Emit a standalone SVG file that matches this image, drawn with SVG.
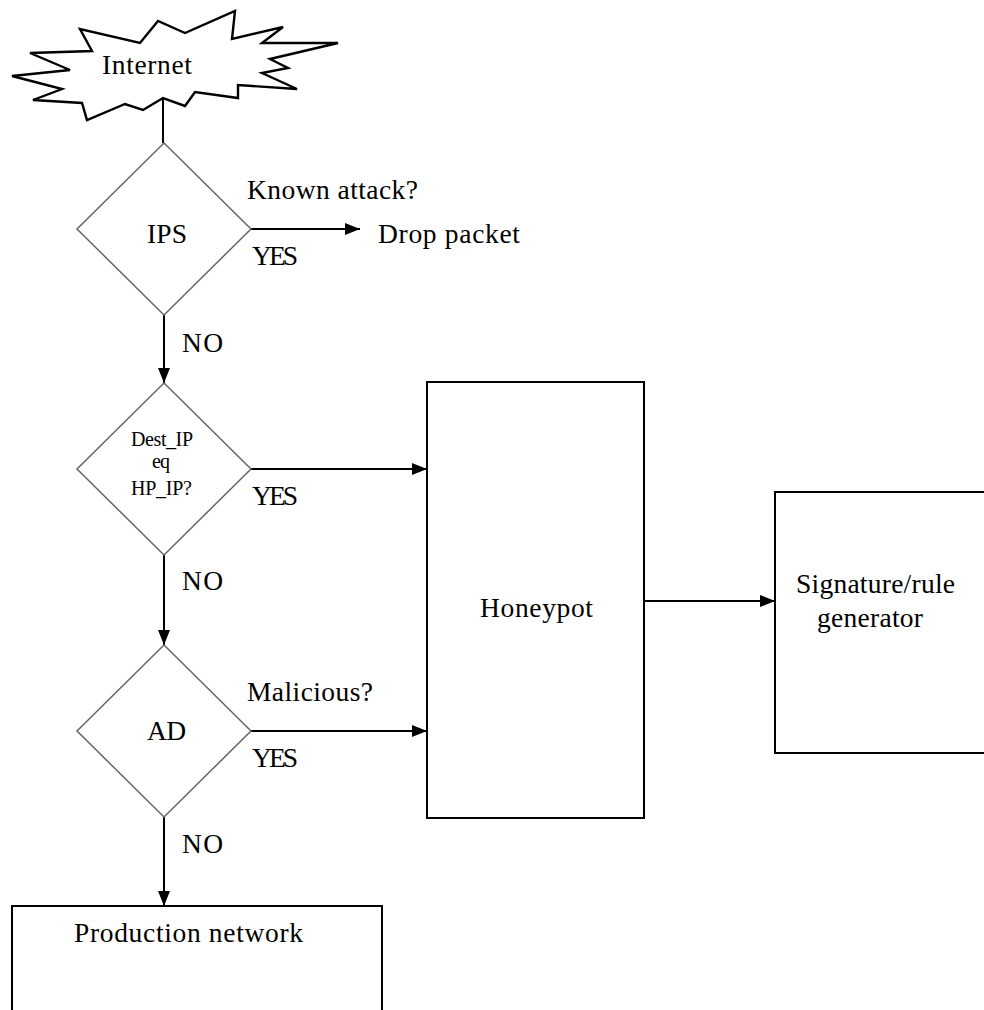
<svg xmlns="http://www.w3.org/2000/svg" width="984" height="1010" viewBox="0 0 984 1010">
<style>
  text { font-family: "Liberation Serif", "Times New Roman", serif; font-size: 27.5px; fill: #000; }
  .small { font-size: 20px; }
  .diamond { fill: #fff; stroke: #666; stroke-width: 1.5; }
  .box { fill: #fff; stroke: #000; stroke-width: 2; }
  .burst { fill: #fff; stroke: #000; stroke-width: 2.4; stroke-linejoin: miter; }
  .conn { stroke: #000; stroke-width: 2; fill: none; }
</style>
<defs>
  <marker id="arrow" markerUnits="userSpaceOnUse" markerWidth="16" markerHeight="14" refX="15" refY="6" orient="auto">
    <path d="M0,0 L15,6 L0,12 z" fill="#000"/>
  </marker>
</defs>
<rect width="984" height="1010" fill="#fff"/>

<g id="connectors">
  <line class="conn" x1="163" y1="98" x2="163" y2="143"/>
  <line class="conn" x1="251" y1="229" x2="360" y2="229" marker-end="url(#arrow)"/>
  <line class="conn" x1="164" y1="315" x2="164" y2="383" marker-end="url(#arrow)"/>
  <line class="conn" x1="251" y1="469" x2="427" y2="469" marker-end="url(#arrow)"/>
  <line class="conn" x1="164" y1="555" x2="164" y2="645" marker-end="url(#arrow)"/>
  <line class="conn" x1="251" y1="731" x2="427" y2="731" marker-end="url(#arrow)"/>
  <line class="conn" x1="164" y1="817" x2="164" y2="906" marker-end="url(#arrow)"/>
  <line class="conn" x1="644" y1="601" x2="775" y2="601" marker-end="url(#arrow)"/>
</g>

<g id="labels">
  <text x="247" y="199" textLength="171">Known attack?</text>
  <text x="378" y="243" textLength="142">Drop packet</text>
  <text x="252" y="265" textLength="46">YES</text>
  <text x="182" y="352" textLength="41">NO</text>
  <text x="252" y="505" textLength="46">YES</text>
  <text x="182" y="590" textLength="41">NO</text>
  <text x="247" y="701" textLength="126">Malicious?</text>
  <text x="252" y="767" textLength="46">YES</text>
  <text x="182" y="853" textLength="41">NO</text>
</g>

<g id="internet">
  <polygon class="burst" points="235,11 232,39 283,27 262,43 338,43 270,59 288,68 262,73 297,89 238,85 238,98 195,92 185,106 163,98 143,110 125,104 87,120 82,103 33,100 62,89 12,76 70,70 30,53 92,51 80,29 140,43 158,21 185,33"/>
  <text x="102" y="74" textLength="90">Internet</text>
</g>

<g id="ips">
  <polygon class="diamond" points="164,143 251,229 164,315 77,229"/>
  <text x="147" y="243" textLength="40">IPS</text>
</g>

<g id="destip">
  <polygon class="diamond" points="164,383 251,469 164,555 77,469"/>
  <text class="small" x="131" y="446" textLength="62">Dest_IP</text>
  <text class="small" x="152" y="468" textLength="18">eq</text>
  <text class="small" x="131" y="495" textLength="61">HP_IP?</text>
</g>

<g id="ad">
  <polygon class="diamond" points="164,645 251,731 164,817 77,731"/>
  <text x="147" y="740" textLength="39">AD</text>
</g>

<g id="honeypot">
  <rect class="box" x="427" y="382" width="217" height="436"/>
  <text x="480" y="617" textLength="113">Honeypot</text>
</g>

<g id="signature">
  <rect class="box" x="775" y="492" width="230" height="261"/>
  <text x="796" y="593" textLength="159">Signature/rule</text>
  <text x="817" y="627" textLength="106">generator</text>
</g>

<g id="production">
  <rect class="box" x="12" y="906" width="370" height="130"/>
  <text x="74" y="942" textLength="229">Production network</text>
</g>
</svg>
